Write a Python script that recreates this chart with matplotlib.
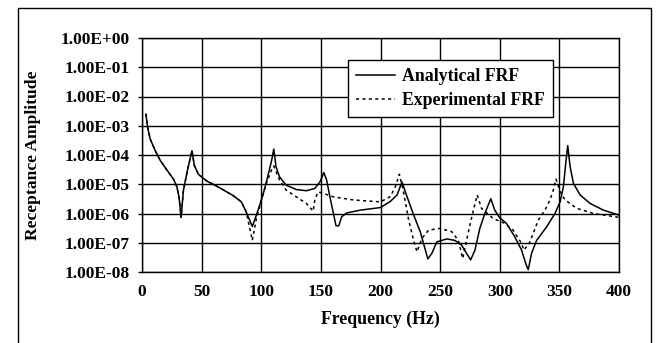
import numpy as np
import matplotlib.pyplot as plt
from matplotlib.patches import Rectangle
from matplotlib.ticker import FixedLocator, FuncFormatter

# analytical FRF (frequency in Hz, receptance amplitude)
freq_an = [3.3, 4.7, 6.9, 11.1, 15.3, 20.8, 26.4, 29.2, 31.1, 32.8, 34.7, 38.1,
           41.9, 43.9, 47.2, 54.2, 65.3, 76.4, 83.3, 87.5, 92.5, 95.8, 100.0,
           102.8, 104.0, 106.8, 108.8, 110.5, 112.4, 115.3, 120.9, 129.4, 137.9,
           144.9, 149.2, 152.5, 154.8, 157.6, 160.5, 162.7, 165.0, 167.5, 171.8,
           183.0, 200.0, 208.3, 213.9, 218.0, 222.2, 227.8, 233.3, 236.9, 239.7,
           243.0, 247.2, 255.6, 262.5, 268.0, 272.2, 275.6, 279.2, 283.3, 287.5,
           292.5, 295.8, 300.0, 305.6, 312.6, 318.3, 321.9, 323.9, 326.7, 330.9,
           339.3, 346.3, 350.6, 353.4, 355.3, 357.0, 359.0, 361.8, 367.4, 375.8,
           387.0, 399.7]
amp_an = [2.5e-3, 8.7e-4, 3.5e-4, 1.4e-4, 6.5e-5, 3.1e-5, 1.5e-5, 8.3e-6, 3.6e-6,
          7.4e-7, 6.0e-6, 3.0e-5, 1.4e-4, 4.4e-5, 2.2e-5, 1.3e-5, 7.5e-6, 4.1e-6,
          2.5e-6, 1.1e-6, 3.6e-7, 8.5e-7, 2.8e-6, 6.9e-6, 1.07e-5, 3.1e-5, 6.8e-5,
          1.6e-4, 4.0e-5, 1.8e-5, 9.3e-6, 6.6e-6, 6.0e-6, 7.2e-6, 1.2e-5, 2.5e-5,
          1.4e-5, 3.7e-6, 1.0e-6, 3.8e-7, 3.8e-7, 7.8e-7, 1.05e-6, 1.3e-6, 1.6e-6,
          2.6e-6, 4.3e-6, 1.2e-5, 3.8e-6, 8.9e-7, 2.4e-7, 7.2e-8, 2.8e-8, 4.3e-8,
          1.07e-7, 1.35e-7, 1.2e-7, 8.3e-8, 4.3e-8, 2.6e-8, 5.6e-8, 3.1e-7, 1.0e-6,
          3.2e-6, 1.3e-6, 7.1e-7, 4.6e-7, 1.6e-7, 5.6e-8, 1.9e-8, 1.2e-8, 4.4e-8,
          1.2e-7, 3.5e-7, 1.0e-6, 2.5e-6, 8.3e-6, 5.1e-5, 2.1e-4, 4.0e-5, 1.07e-5,
          4.3e-6, 2.2e-6, 1.3e-6, 8.9e-7]

# experimental FRF
freq_ex = [3.3, 4.7, 6.9, 11.1, 15.3, 20.8, 26.4, 29.2, 31.1, 32.8, 34.7, 38.1,
           41.9, 43.9, 47.2, 54.2, 65.3, 76.4, 83.3, 87.5, 92.5, 95.8, 100.0,
           104.0, 108.8, 110.5, 115.3, 120.9, 129.4, 137.9, 143.5, 144.9, 147.7,
           152.0, 160.5, 177.4, 200.0, 208.3, 212.5, 215.8, 218.9, 223.6, 227.8,
           230.6, 234.7, 240.3, 250.0, 259.7, 265.3, 268.9, 272.8, 277.2, 281.1,
           284.7, 294.4, 304.2, 311.2, 318.3, 320.2, 324.7, 328.1, 332.3, 337.9,
           342.1, 344.9, 347.2, 350.6, 354.8, 364.6, 378.7, 399.7]
amp_ex = [2.5e-3, 8.7e-4, 3.5e-4, 1.4e-4, 6.5e-5, 3.1e-5, 1.5e-5, 8.3e-6, 3.6e-6,
          7.4e-7, 6.0e-6, 3.0e-5, 1.4e-4, 4.4e-5, 2.2e-5, 1.3e-5, 7.5e-6, 4.1e-6,
          2.5e-6, 1.1e-6, 1.2e-7, 6.3e-7, 2.8e-6, 1.0e-5, 3.2e-5, 4.2e-5, 1.4e-5,
          6.3e-6, 3.7e-6, 2.2e-6, 1.2e-6, 2.9e-6, 5.5e-6, 4.9e-6, 3.7e-6, 2.9e-6,
          2.5e-6, 3.8e-6, 8.3e-6, 2.2e-5, 6.5e-6, 6.0e-7, 1.2e-7, 4.9e-8, 1.4e-7,
          2.7e-7, 3.1e-7, 2.4e-7, 1.2e-7, 2.9e-8, 1.6e-7, 1.0e-6, 4.3e-6, 1.5e-6,
          6.8e-7, 4.6e-7, 2.7e-7, 9.5e-8, 5.6e-8, 9.5e-8, 2.1e-7, 6.0e-7, 1.3e-6,
          2.9e-6, 6.3e-6, 1.5e-5, 5.6e-6, 2.9e-6, 1.5e-6, 1.0e-6, 7.4e-7]

x_ticks = [0, 50, 100, 150, 200, 250, 300, 350, 400]
y_ticks = [1e0, 1e-1, 1e-2, 1e-3, 1e-4, 1e-5, 1e-6, 1e-7, 1e-8]

plt.rcParams['font.family'] = ['Liberation Serif', 'DejaVu Serif']
plt.rcParams['font.weight'] = 'bold'

fig = plt.figure(figsize=(6.56, 3.43), dpi=100)
ax = fig.add_axes([142 / 656, 1 - 272 / 343, 477 / 656, 234 / 343])

ax.plot(freq_an, amp_an, color='black', lw=1.1, label='Analytical FRF', zorder=3)
ax.plot(freq_ex, amp_ex, color='black', lw=1.1, ls=(0, (2, 2.2)),
        label='Experimental FRF', zorder=3)

ax.set_yscale('log')
ax.set_xlim(0, 400)
ax.set_ylim(1e-8, 1)
ax.xaxis.set_major_locator(FixedLocator(x_ticks))
ax.yaxis.set_major_locator(FixedLocator(y_ticks))
ax.yaxis.set_minor_locator(FixedLocator([]))
ax.yaxis.set_major_formatter(FuncFormatter(lambda v, p: '%.2E' % v))
ax.grid(True, color='black', lw=1.0)
for s in ax.spines.values():
    s.set_color('black')
    s.set_linewidth(1.0)
ax.tick_params(axis='y', length=3, width=1, pad=6, labelsize=12.5)
ax.tick_params(axis='x', length=0, pad=9, labelsize=12.5)
for lab in ax.get_xticklabels() + ax.get_yticklabels():
    lab.set_fontweight('bold')

ax.set_xlabel('Frequency (Hz)', fontsize=12.8, fontweight='bold')
ax.set_ylabel('Receptance Amplitude', fontsize=12.6, fontweight='bold')
ax.xaxis.set_label_coords(0.5, -0.165)
ax.yaxis.set_label_coords(-0.212, 0.5)

leg = ax.legend(loc='upper left', bbox_to_anchor=(0.432, 0.906), fancybox=False,
                edgecolor='black', framealpha=1, handlelength=2.2,
                prop={'size': 12.8, 'weight': 'bold'}, borderpad=0.45,
                labelspacing=0.4, handletextpad=0.4, borderaxespad=0)
leg.get_frame().set_linewidth(1.0)

fig.patches.append(Rectangle((18 / 656, -0.02), 633 / 656, 1.02 - 8 / 343,
                             transform=fig.transFigure, fill=False,
                             edgecolor='black', lw=1.0))

fig.savefig('out.png', dpi=100)
